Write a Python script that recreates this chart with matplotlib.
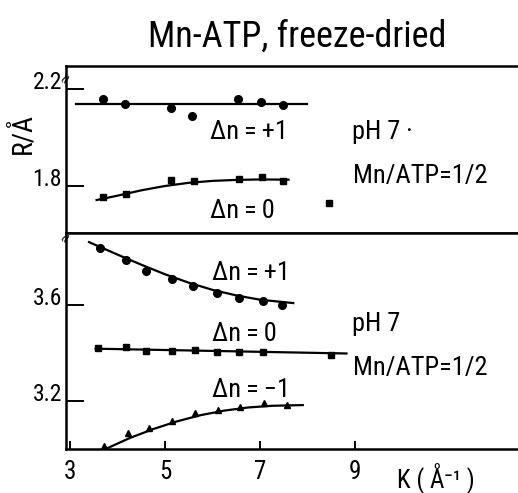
import matplotlib
matplotlib.use('Agg')
import matplotlib.pyplot as plt

plt.rcParams['font.family'] = ['Roboto Condensed', 'DejaVu Sans']

### data (K in 1/A, R in A)
# upper panel
k_top_p1 = [3.70, 4.16, 5.13, 5.57, 6.54, 7.02, 7.48]
r_top_p1 = [2.159, 2.138, 2.122, 2.089, 2.159, 2.146, 2.134]
fit_k_top_p1 = [3.13, 7.99]
fit_r_top_p1 = [2.138, 2.138]

k_top_0 = [3.70, 4.18, 5.13, 5.61, 6.56, 7.04, 7.48, 8.45]
r_top_0 = [1.755, 1.767, 1.825, 1.821, 1.829, 1.837, 1.821, 1.730]
fit_k_top_0 = [3.56, 4.0, 4.5, 5.0, 5.5, 6.0, 6.5, 7.0, 7.6]
fit_r_top_0 = [1.742, 1.760, 1.782, 1.800, 1.813, 1.821, 1.825, 1.827, 1.826]

# lower panel
k_low_p1 = [3.63, 4.18, 4.60, 5.15, 5.59, 6.10, 6.56, 7.06, 7.46]
r_low_p1 = [3.838, 3.788, 3.742, 3.708, 3.679, 3.650, 3.629, 3.617, 3.600]
fit_k_low_p1 = [3.4, 4.0, 4.5, 5.0, 5.5, 6.0, 6.5, 7.0, 7.7]
fit_r_low_p1 = [3.862, 3.810, 3.768, 3.728, 3.693, 3.663, 3.640, 3.622, 3.608]

k_low_0 = [3.59, 4.18, 4.60, 5.15, 5.63, 6.10, 6.56, 7.06, 8.50]
r_low_0 = [3.421, 3.425, 3.408, 3.408, 3.412, 3.404, 3.404, 3.404, 3.392]
fit_k_low_0 = [3.54, 8.82]
fit_r_low_0 = [3.418, 3.398]

k_low_m1 = [3.72, 4.22, 4.66, 5.15, 5.63, 6.12, 6.58, 7.08, 7.57]
r_low_m1 = [3.012, 3.067, 3.088, 3.117, 3.150, 3.162, 3.175, 3.192, 3.183]
fit_k_low_m1 = [3.75, 4.25, 4.75, 5.25, 5.75, 6.25, 6.75, 7.25, 7.9]
fit_r_low_m1 = [3.0, 3.045, 3.083, 3.115, 3.141, 3.160, 3.173, 3.180, 3.183]

x_ticks = [3, 5, 7, 9]
top_yticks = [1.8, 2.2]
low_yticks = [3.2, 3.6]

W, H = 518, 493
fig = plt.figure(figsize=(W / 100, H / 100), dpi=100)

def px_axes(left, top, right, bottom):
    return fig.add_axes([left / W, 1 - bottom / H, (right - left) / W, (bottom - top) / H])

ax_top = px_axes(66, 66, 518, 233)
ax_low = px_axes(66, 233, 518, 449)

for ax in (ax_top, ax_low):
    ax.set_xlim(2.916, 12.43)
    ax.spines['right'].set_visible(False)
    for s in ('left', 'top', 'bottom'):
        ax.spines[s].set_linewidth(1.8)
    ax.tick_params(axis='y', direction='in', length=13, width=1.4, pad=3, labelsize=17)

lab = dict(fontsize=19, va='center', ha='left')
ts = '\u2009'

# upper panel
ax_top.plot(fit_k_top_p1, fit_r_top_p1, color='black', lw=1.6)
ax_top.plot(k_top_p1, r_top_p1, 'o', color='black', ms=5.5)
ax_top.plot(fit_k_top_0, fit_r_top_0, color='black', lw=1.6)
ax_top.plot(k_top_0, r_top_0, 's', color='black', ms=5)
ax_top.set_ylim(1.606, 2.295)
ax_top.set_yticks(top_yticks)
ax_top.set_yticklabels(['1.8', '2.2'])
ax_top.set_xticks([])
ax_top.set_ylabel('R/Å', fontsize=20)
ax_top.yaxis.set_label_coords(-0.066, 0.596)

ax_top.text(5.95, 2.023, 'Δn' + ts + '=' + ts + '+1', **lab)
ax_top.text(5.95, 1.697, 'Δn' + ts + '=' + ts + '0', **lab)
ax_top.text(8.94, 2.023, 'pH 7 ·', **lab)
ax_top.text(8.96, 1.841, 'Mn/ATP=1/2', **lab)

# lower panel
ax_low.plot(fit_k_low_p1, fit_r_low_p1, color='black', lw=1.6)
ax_low.plot(k_low_p1, r_low_p1, 'o', color='black', ms=5.5)
ax_low.plot(fit_k_low_0, fit_r_low_0, color='black', lw=1.6)
ax_low.plot(k_low_0, r_low_0, 's', color='black', ms=5)
ax_low.plot(fit_k_low_m1, fit_r_low_m1, color='black', lw=1.6)
ax_low.plot(k_low_m1, r_low_m1, '^', color='black', ms=5)
ax_low.set_ylim(3.0, 3.9)
ax_low.set_yticks(low_yticks)
ax_low.set_yticklabels(['3.2', '3.6'])
ax_low.set_xticks(x_ticks)
ax_low.tick_params(axis='x', direction='in', length=6, width=1.4, pad=8, labelsize=18)

ax_low.text(5.99, 3.733, 'Δn' + ts + '=' + ts + '+1', **lab)
ax_low.text(5.99, 3.479, 'Δn' + ts + '=' + ts + '0', **lab)
ax_low.text(5.99, 3.246, 'Δn' + ts + '=' + ts + '−1', **lab)
ax_low.text(8.94, 3.521, 'pH 7', **lab)
ax_low.text(8.96, 3.3375, 'Mn/ATP=1/2', **lab)
ax_low.text(10.7, 2.883, 'K ( Å⁻¹ )', fontsize=18, ha='center', va='center')

# tick labels sit on the tick, like in the original
for ax in (ax_top, ax_low):
    for t in ax.get_yticklabels():
        t.set_va('baseline')

# axis break marks on the left spine
ax_top.text(0, 0.93, '≈', transform=ax_top.transAxes, fontsize=10, ha='center', va='center',
            rotation=60, family='DejaVu Sans')
ax_low.text(0, 0.98, '≈', transform=ax_low.transAxes, fontsize=10, ha='center', va='center',
            rotation=60, family='DejaVu Sans')

fig.text(297 / W, 1 - 37 / H, 'Mn-ATP, freeze-dried', fontsize=26, ha='center', va='center')

fig.savefig('out.png', dpi=100)
